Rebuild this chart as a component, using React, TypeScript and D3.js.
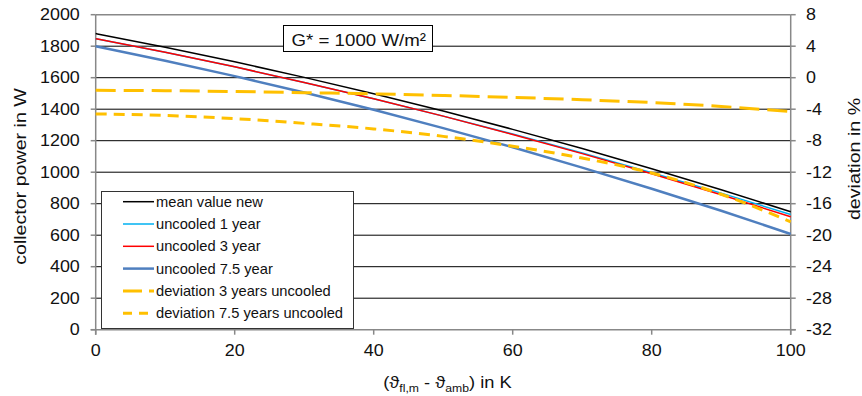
import React from "react";
import * as d3 from "d3";

const K = [0, 10, 20, 30, 40, 50, 60, 70, 80, 90, 100];
const meanNew = [1880, 1793, 1701, 1602, 1498, 1388, 1272, 1150, 1022, 889, 749];
const uncooled1 = [1848, 1761, 1669, 1570, 1466, 1356, 1242, 1122, 997, 867, 731];
const uncooled3 = [1848, 1761, 1669, 1570, 1466, 1356, 1240, 1118, 990, 857, 717];
const uncooled75 = [1800, 1708, 1610, 1506, 1396, 1280, 1158, 1029, 895, 755, 608];
const dev3 = [-1.6, -1.65, -1.75, -1.9, -2.05, -2.25, -2.5, -2.8, -3.15, -3.65, -4.3];
const dev75 = [-4.6, -4.8, -5.2, -5.8, -6.5, -7.45, -8.7, -10.2, -12.1, -14.8, -18.3];

const xTicks = [0, 20, 40, 60, 80, 100];
const leftTicks = [0, 200, 400, 600, 800, 1000, 1200, 1400, 1600, 1800, 2000];
const rightTicks = [8, 4, 0, -4, -8, -12, -16, -20, -24, -28, -32];

const legendLabels = [
  "mean value new",
  "uncooled 1 year",
  "uncooled 3 year",
  "uncooled 7.5 year",
  "deviation 3 years uncooled",
  "deviation 7.5 years uncooled",
];

const FONT = "'Liberation Sans', Arial, sans-serif";

function T(props: {
  x: number;
  y: number;
  sx?: number;
  rot?: number;
  anchor?: string;
  fs: number;
  dy?: string;
  children: React.ReactNode;
}) {
  const { x, y, sx = 1, rot = 0, anchor = "start", fs, dy, children } = props;
  return (
    <g transform={`translate(${x},${y}) rotate(${rot}) scale(${sx},1)`}>
      <text x={0} y={0} dy={dy} textAnchor={anchor as any} fontSize={fs} fill="#111">
        {children}
      </text>
    </g>
  );
}

export default function App() {
  const x0 = 95.7, x1 = 790.7, yT = 14.7, yB = 329.7;
  const x = d3.scaleLinear().domain([0, 100]).range([x0, x1]);
  const yL = d3.scaleLinear().domain([0, 2000]).range([yB, yT]);
  const yR = d3.scaleLinear().domain([-32, 8]).range([yB, yT]);

  const lineL = (vals: number[]) =>
    d3.line<number>().x((_, i) => x(K[i])).y((v) => yL(v)).curve(d3.curveMonotoneX)(vals) || "";
  const lineR = (vals: number[]) =>
    d3.line<number>().x((_, i) => x(K[i])).y((v) => yR(v)).curve(d3.curveMonotoneX)(vals) || "";

  const styles = [
    { stroke: "#000000", w: 1.5, dash: "" },
    { stroke: "#00B0F0", w: 1.5, dash: "" },
    { stroke: "#FF0000", w: 1.5, dash: "" },
    { stroke: "#4F7FBF", w: 2.5, dash: "" },
    { stroke: "#FFC000", w: 3, dash: "20,8" },
    { stroke: "#FFC000", w: 3, dash: "11,7" },
  ];
  const paths = [
    lineL(meanNew),
    lineL(uncooled1),
    lineL(uncooled3),
    lineL(uncooled75),
    lineR(dev3),
    lineR(dev75),
  ];

  const legX = 101, legY = 191, legW = 252, legH = 137;
  const rowY = (i: number) => 201.7 + i * 22.3;
  const TS = 1.12;

  return (
    <svg
      width={862}
      height={396}
      style={{ position: "absolute", left: 0, top: 0, background: "#fff" }}
      fontFamily={FONT}
    >
      <rect x={0} y={0} width={862} height={396} fill="#fff" />
      {/* gridlines */}
      {leftTicks.filter((t) => t > 0 && t < 2000).map((t) => (
        <line key={t} x1={x0} x2={x1} y1={yL(t)} y2={yL(t)} stroke="#000" strokeWidth={1} />
      ))}
      <line x1={x0} x2={x1} y1={yT} y2={yT} stroke="#888" strokeWidth={1.5} />
      {/* axes */}
      <line x1={x0} x2={x0} y1={yT} y2={yB + 5} stroke="#888" strokeWidth={1.5} />
      <line x1={x1} x2={x1} y1={yT} y2={yB + 5} stroke="#888" strokeWidth={1.5} />
      <line x1={x0 - 5} x2={x1 + 5} y1={yB} y2={yB} stroke="#888" strokeWidth={1.5} />
      {leftTicks.map((t) => (
        <g key={"l" + t}>
          <line x1={x0 - 5} x2={x0} y1={yL(t)} y2={yL(t)} stroke="#888" strokeWidth={1.5} />
          <T x={79.8} y={yL(t)} dy="0.36em" anchor="end" fs={16} sx={TS}>
            {t}
          </T>
        </g>
      ))}
      {rightTicks.map((t) => (
        <g key={"r" + t}>
          <line x1={x1} x2={x1 + 5} y1={yR(t)} y2={yR(t)} stroke="#888" strokeWidth={1.5} />
          <T x={806} y={yR(t)} dy="0.36em" anchor="start" fs={16} sx={TS}>
            {t}
          </T>
        </g>
      ))}
      {xTicks.map((t) => (
        <g key={"x" + t}>
          <line x1={x(t)} x2={x(t)} y1={yB} y2={yB + 5} stroke="#888" strokeWidth={1.5} />
          <T x={x(t)} y={356} anchor="middle" fs={16} sx={TS}>
            {t}
          </T>
        </g>
      ))}
      {/* axis titles */}
      <T x={25.5} y={176.5} rot={-90} anchor="middle" fs={16.5} sx={1.19}>
        collector power in W
      </T>
      <T x={859.5} y={159} rot={-90} anchor="middle" fs={16.5} sx={1.19}>
        deviation in %
      </T>
      <T x={447.5} y={388} anchor="middle" fs={16.5} sx={1.11}>
        (ϑ<tspan fontSize={11} dy={4}>fl,m</tspan>
        <tspan dy={-4}> - ϑ</tspan>
        <tspan fontSize={11} dy={4}>amb</tspan>
        <tspan dy={-4}>) in K</tspan>
      </T>
      {/* series */}
      {paths.map((p, i) => (
        <path
          key={i}
          d={p}
          fill="none"
          stroke={styles[i].stroke}
          strokeWidth={styles[i].w}
          strokeDasharray={styles[i].dash || undefined}
        />
      ))}
      {/* G* box */}
      <rect x={283.5} y={25.5} width={149} height={26} fill="#fff" stroke="#000" strokeWidth={1} />
      <T x={291.5} y={46} fs={17} sx={1.1}>
        G* = 1000 W/m²
      </T>
      {/* legend */}
      <rect x={legX + 0.5} y={legY + 0.5} width={legW} height={legH} fill="#fff" stroke="#333" strokeWidth={1} />
      {legendLabels.map((l, i) => (
        <g key={l}>
          <line
            x1={123}
            x2={154}
            y1={rowY(i)}
            y2={rowY(i)}
            stroke={styles[i].stroke}
            strokeWidth={styles[i].w}
            strokeDasharray={i === 4 ? "19,7" : i === 5 ? "9,7" : undefined}
          />
          <T x={156} y={rowY(i)} dy="0.36em" fs={14} sx={1.05}>
            {l}
          </T>
        </g>
      ))}
    </svg>
  );
}
